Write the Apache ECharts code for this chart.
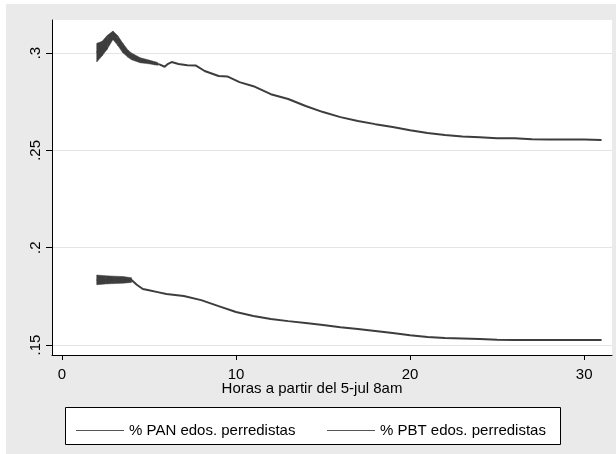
<!DOCTYPE html>
<html>
<head>
<meta charset="utf-8">
<script src="https://cdn.jsdelivr.net/npm/echarts@6/dist/echarts.min.js"></script>
<style>
html,body{margin:0;padding:0;background:#ffffff;}
#chart{width:616px;height:454px;}
</style>
</head>
<body>
<div id="chart"></div>
<script>
// ---- data ----
const panHours = [2.00,2.30,2.60,2.93,3.20,3.50,3.80,4.00,4.30,4.50,4.70,5.00,5.30,5.60,5.90,6.10,6.30,6.70,7.20,7.70,8.20,9.00,9.50,10.2,11,12,13,14,15,16,17,18,19,20,21,22,23,24,25,26,27,28,29,30,31];
const panValues = [.3002,.3020,.3055,.3092,.3065,.3025,.2995,.2982,.2968,.2962,.2955,.2954,.2946,.2942,.2930,.2945,.2954,.2944,.2938,.2936,.2908,.2882,.2880,.2851,.2830,.2789,.2764,.2728,.2697,.2671,.2651,.2635,.2620,.2604,.2589,.2579,.2571,.2568,.2563,.2563,.2558,.2556,.2556,.2556,.2553];
// envelope of the noisy start of the PAN line
const panBandHours = [2.00,2.30,2.60,2.93,3.20,3.50,3.80,4.00,4.50,5.00,5.50];
const panBandLow   = [.2954,.2985,.3020,.3070,.3040,.3002,.2978,.2966,.2950,.2945,.2937];
const panBandHigh  = [.3050,.3060,.3090,.3113,.3090,.3050,.3015,.3000,.2976,.2964,.2952];
const pbtHours = [2.00,4.00,4.30,4.65,5.00,5.50,6,7,8,9,10,11,12,13,14,15,16,17,18,19,20,21,22,23,24,25,26,27,28,29,30,31];
const pbtValues = [.1834,.1834,.1810,.1788,.1782,.1772,.1762,.1752,.1731,.1700,.1670,.1649,.1634,.1623,.1613,.1603,.1592,.1582,.1572,.1562,.1551,.1541,.1536,.1534,.1531,.1527,.1526,.1526,.1526,.1526,.1526,.1526];
// envelope of the noisy start of the PBT line
const pbtBandHours = [2.00,2.50,3.00,3.50,4.00];
const pbtBandLow   = [.1810,.1814,.1816,.1818,.1822];
const pbtBandHigh  = [.1860,.1856,.1854,.1852,.1846];
const seriesNames = ['% PAN edos. perredistas', '% PBT edos. perredistas'];
const xTickValues = [0, 10, 20, 30];
const yTickValues = [0.15, 0.2, 0.25, 0.3];
const yTickLabels = ['.15', '.2', '.25', '.3'];
const xTitle = 'Horas a partir del 5-jul 8am';

const FONT = '"Liberation Sans", Arial, sans-serif';
const lineColor = '#3d3d3d';

const chart = echarts.init(document.getElementById('chart'));
const pairs = (xs, ys) => xs.map((x, i) => [x, ys[i]]);

function bandSeries(hours, low, high) {
  const data = hours.map((h, i) => [h, low[i], high[i]]);
  return {
    type: 'custom', silent: true, z: 1,
    encode: { x: 0, y: [1, 2] },
    data: data,
    renderItem: function (params, api) {
      const i = params.dataIndex;
      if (i >= data.length - 1) return null;
      const a = data[i], b = data[i + 1];
      const pts = [
        api.coord([a[0], a[1]]), api.coord([b[0], b[1]]),
        api.coord([b[0], b[2]]), api.coord([a[0], a[2]])
      ];
      return { type: 'polygon', shape: { points: pts }, style: { fill: lineColor, stroke: lineColor, lineWidth: 0.5 } };
    }
  };
}

chart.setOption({
  backgroundColor: '#ffffff',
  animation: false,
  graphic: [
    { type: 'rect', z: -10, silent: true, shape: { x: 6, y: 4, width: 610, height: 450 }, style: { fill: '#eaeaea' } },
    { type: 'rect', z: -5, silent: true, shape: { x: 52, y: 20, width: 560, height: 335 }, style: { fill: '#ffffff' } },
    { type: 'rect', z: 1, silent: true, shape: { x: 65.5, y: 407.5, width: 495, height: 37 }, style: { fill: '#ffffff', stroke: '#000000', lineWidth: 1 } },
    { type: 'text', z: 5, x: 312, y: 389, style: { text: xTitle, font: '15px ' + FONT, fill: '#000', align: 'center', verticalAlign: 'middle' } }
  ],
  grid: { left: 52, right: 4, top: 20, bottom: 99, containLabel: false },
  xAxis: {
    type: 'value', min: -0.57, max: 31.6,
    axisLine: { show: true, onZero: false, lineStyle: { color: '#000', width: 1 } },
    axisTick: { show: true, length: 5, customValues: xTickValues, lineStyle: { color: '#000' } },
    axisLabel: { customValues: xTickValues, margin: 12, fontSize: 15, fontFamily: FONT, color: '#000' },
    splitLine: { show: false }
  },
  yAxis: {
    type: 'value', min: 0.1449, max: 0.317,
    axisLine: { show: true, onZero: false, lineStyle: { color: '#000', width: 1 } },
    axisTick: { show: true, length: 6, customValues: yTickValues, lineStyle: { color: '#000' } },
    axisLabel: {
      customValues: yTickValues, rotate: 90, margin: 9, fontSize: 15, fontFamily: FONT, color: '#000',
      formatter: v => { const i = yTickValues.findIndex(t => Math.abs(t - v) < 1e-9); return i >= 0 ? yTickLabels[i] : ''; }
    },
    splitLine: { show: true, lineStyle: { color: '#e4e4e4', width: 1 } }
  },
  legend: [
    { data: [{ name: seriesNames[0], icon: 'rect', itemStyle: { color: '#555' } }], left: 71, top: 418, itemWidth: 48, itemHeight: 1, itemGap: 0,
      textStyle: { fontSize: 15, fontFamily: FONT, color: '#000' }, selectedMode: false, z: 6 },
    { data: [{ name: seriesNames[1], icon: 'rect', itemStyle: { color: '#555' } }], left: 322, top: 418, itemWidth: 48, itemHeight: 1, itemGap: 0,
      textStyle: { fontSize: 15, fontFamily: FONT, color: '#000' }, selectedMode: false, z: 6 }
  ],
  series: [
    { name: seriesNames[0], type: 'line', data: pairs(panHours, panValues), symbol: 'none', smooth: false,
      lineStyle: { color: lineColor, width: 2 }, itemStyle: { color: lineColor }, z: 2 },
    { name: seriesNames[1], type: 'line', data: pairs(pbtHours, pbtValues), symbol: 'none', smooth: false,
      lineStyle: { color: lineColor, width: 2 }, itemStyle: { color: lineColor }, z: 2 },
    bandSeries(panBandHours, panBandLow, panBandHigh),
    bandSeries(pbtBandHours, pbtBandLow, pbtBandHigh)
  ]
});
</script>
</body>
</html>
